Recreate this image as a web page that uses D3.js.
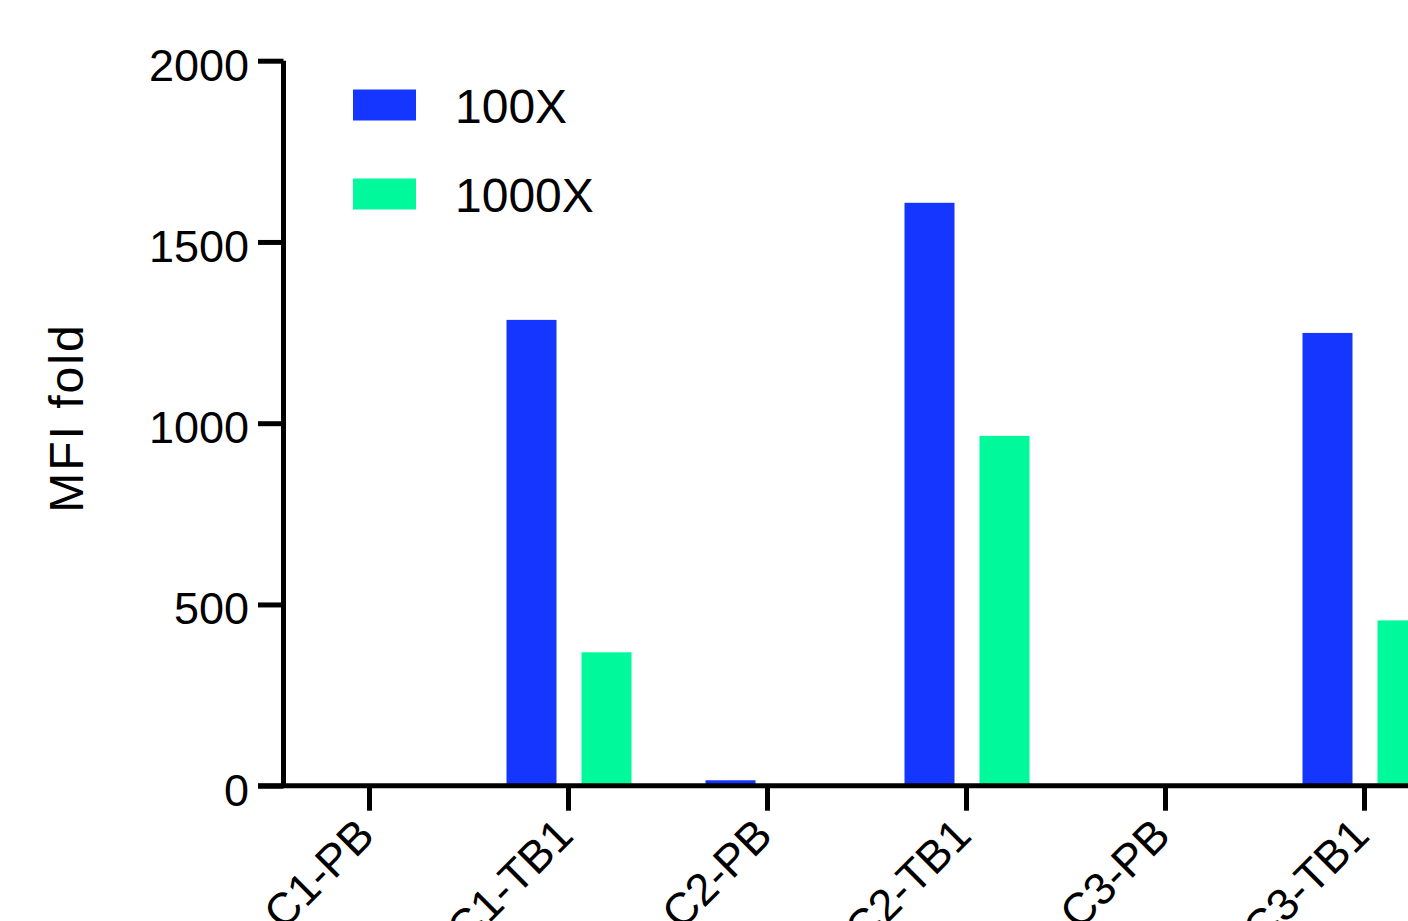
<!DOCTYPE html>
<html>
<head>
<meta charset="utf-8">
<script src="https://cdn.jsdelivr.net/npm/d3@7"></script>
<style>
	html, body { margin: 0; padding: 0; background: #fff; overflow: hidden; }
	svg { display: block; font-family: "Liberation Sans", Arial, Helvetica, sans-serif; }
</style>
</head>
<body>
<svg id="chart" width="1408" height="921"></svg>
<script>
// categories and series
var categories = ["C1-PB", "C1-TB1", "C2-PB", "C2-TB1", "C3-PB", "C3-TB1"];
var seriesNames = ["100X", "1000X"];
var values100X = [0, 1285, 15, 1608, 0, 1249];
var values1000X = [0, 368, 0, 965, 0, 456];
var yTicks = [0, 500, 1000, 1500, 2000];
var colors = {"100X": "#1536fe", "1000X": "#00f99b"};

var svg = d3.select("#chart");
var width = +svg.attr("width");

var axisX = 283.5, baseY = 785.7, topY = 60.7;

var y = d3.scaleLinear().domain([0, 2000]).range([baseY, topY]);
var x = d3.scaleBand().domain(categories).range([270, 270 + 199 * categories.length]).padding(0);
// position of the two bars inside a category, relative to its centre
var xs = d3.scaleBand().domain(seriesNames).range([-62, 63]).paddingInner(1 / 3).paddingOuter(0);

var rows = categories.map(function (c, i) {
	return {cat: c, vals: [
		{name: "100X", v: values100X[i]},
		{name: "1000X", v: values1000X[i]}
	]};
});

// bars
var groups = svg.append("g").selectAll("g")
	.data(rows).enter().append("g")
	.attr("transform", function (d) { return "translate(" + (x(d.cat) + x.bandwidth() / 2) + ",0)"; });
groups.selectAll("rect")
	.data(function (d) { return d.vals; })
	.enter().append("rect")
	.attr("x", function (d) { return xs(d.name); })
	.attr("width", xs.bandwidth())
	.attr("y", function (d) { return y(d.v); })
	.attr("height", function (d) { return baseY - y(d.v); })
	.attr("fill", function (d) { return colors[d.name]; });

// y axis
var yAxis = svg.append("g")
	.attr("transform", "translate(" + axisX + ",0)")
	.call(d3.axisLeft(y).tickValues(yTicks).tickFormat(d3.format("d"))
		.tickSize(25.5).tickSizeOuter(0).tickPadding(9));
yAxis.select(".domain").attr("stroke-width", 5).attr("d", "M0," + topY + "V" + baseY);
yAxis.selectAll(".tick line").attr("stroke-width", 5);
yAxis.selectAll(".tick text")
	.attr("font-size", 45)
	.attr("font-family", "Liberation Sans, Arial, sans-serif")
	.attr("fill", "#000")
	.attr("dy", "0.43em");

// x axis
var xAxis = svg.append("g")
	.attr("transform", "translate(0," + baseY + ")")
	.call(d3.axisBottom(x).tickSize(25).tickSizeOuter(0));
xAxis.select(".domain").attr("stroke-width", 5).attr("d", "M" + (axisX - 25.5) + ",0H" + width);
xAxis.selectAll(".tick line").attr("stroke-width", 5);
xAxis.selectAll(".tick text")
	.attr("font-size", 45)
	.attr("font-family", "Liberation Sans, Arial, sans-serif")
	.attr("fill", "#000")
	.attr("y", 0)
	.attr("dy", 0)
	.attr("text-anchor", "end")
	.attr("transform", "translate(7,52) rotate(-45)");

// y title
svg.append("text")
	.attr("transform", "translate(83,418) rotate(-90)")
	.attr("text-anchor", "middle")
	.attr("font-size", 48)
	.attr("letter-spacing", 2)
	.text("MFI fold");

// legend
var legend = svg.append("g").selectAll("g")
	.data(seriesNames).enter().append("g")
	.attr("transform", function (d, i) { return "translate(353," + (89.5 + i * 89) + ")"; });
legend.append("rect")
	.attr("width", 63).attr("height", 31)
	.attr("fill", function (d) { return colors[d]; });
legend.append("text")
	.attr("x", 102).attr("y", 33.5)
	.attr("font-size", 48)
	.text(function (d) { return d; });
</script>
</body>
</html>
